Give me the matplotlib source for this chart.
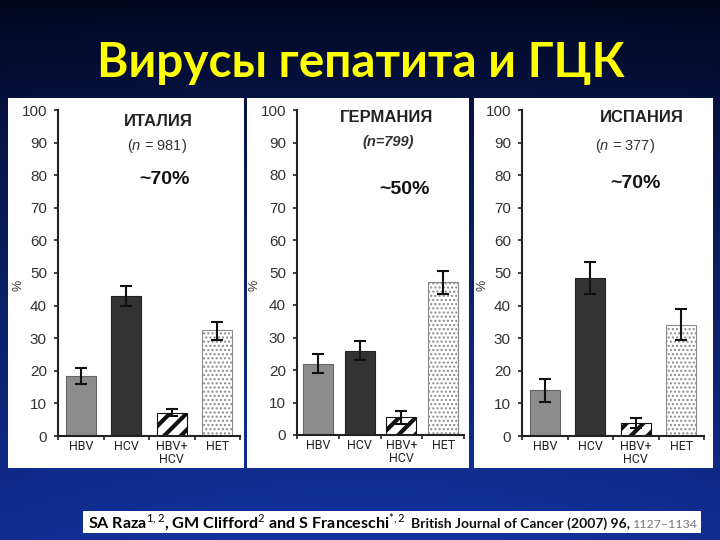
import numpy as np
import matplotlib
matplotlib.use('Agg')
import matplotlib.pyplot as plt
from matplotlib import font_manager
from matplotlib.patches import Rectangle

W, H = 720, 540

categories = ['HBV', 'HCV', 'HBV+\nHCV', 'HET']
yticks = list(range(0, 101, 10))

italy_vals = [18.5, 43, 7, 32.5]
italy_low = [16, 40, 6, 29.5]
italy_high = [21, 46, 8.2, 35]

germany_vals = [22, 26, 5.5, 47]
germany_low = [19, 23, 3.5, 43.5]
germany_high = [25, 29, 7.5, 50.5]

spain_vals = [14, 48.5, 4, 34]
spain_low = [10.5, 43.5, 2.5, 29.5]
spain_high = [17.5, 53.5, 5.5, 39]

title = 'Вирусы гепатита и ГЦК'
cite_authors = r'SA Raza$^{1,2}$, GM Clifford$^{2}$ and S Franceschi$^{*,2}$'
cite_journal = 'British Journal of Cancer (2007) 96,'
cite_pages = '1127–1134'


def has_font(name):
    try:
        font_manager.findfont(name, fallback_to_default=False)
        return True
    except Exception:
        return False


narrow = 'Liberation Sans Narrow' if has_font('Liberation Sans Narrow') else 'Roboto'

plt.rcParams['font.family'] = ['Liberation Sans', 'DejaVu Sans']
plt.rcParams['mathtext.fontset'] = 'custom'
plt.rcParams['mathtext.rm'] = 'Lato'
plt.rcParams['mathtext.it'] = 'Liberation Sans:italic'
plt.rcParams['mathtext.bf'] = 'Lato:bold'

fig = plt.figure(figsize=(7.2, 5.4), dpi=100)

# background in pixel coords
bg = fig.add_axes([0, 0, 1, 1], zorder=-1)
bg.set_xlim(0, W)
bg.set_ylim(H, 0)
bg.axis('off')
yy = np.linspace(0, 1, H)[:, None]
xx = np.linspace(0, 1, W)[None, :]
top = np.array([2, 6, 28]) / 255
bot = np.array([18, 50, 158]) / 255
t = np.clip(yy ** 0.75, 0, 1)
grad = top + (bot - top) * t[..., None]
grad = grad * (0.92 + 0.08 * np.sin(np.pi * xx))[..., None]
grad = np.broadcast_to(grad, (H, W, 3))
bg.imshow(grad, extent=(0, W, H, 0), aspect='auto', zorder=0)

for x0, x1 in [(8, 244), (247, 469), (474, 713)]:
    bg.add_patch(Rectangle((x0, 98), x1 - x0, 370, facecolor='white',
                           edgecolor='none', zorder=1))

bg.add_patch(Rectangle((83, 511), 618, 22, facecolor='white', edgecolor='none', zorder=1))

fig.canvas.draw()
renderer = fig.canvas.get_renderer()


def fit(txt, width):
    bb = txt.get_window_extent(renderer)
    txt.set_fontsize(txt.get_fontsize() * width / bb.width)


tt = bg.text(361, 77, title, ha='center', va='baseline', color='#ffff00',
             fontsize=36, fontweight='bold', family=['Lato', 'DejaVu Sans'], zorder=2)
fit(tt, 528)

c1 = bg.text(88, 528, cite_authors, ha='left', va='baseline', color='black',
             fontsize=11, fontweight='bold', family=['Lato', 'DejaVu Sans'], zorder=2)
fit(c1, 318)
c2 = bg.text(411, 528, cite_journal, ha='left', va='baseline', color='#111111',
             fontsize=9, fontweight='bold', family=['Lato', 'DejaVu Sans'], zorder=2)
fit(c2, 218)
c3 = bg.text(633, 528, cite_pages, ha='left', va='baseline', color='#777777',
             fontsize=9, family=['Lato', 'DejaVu Sans'], zorder=2)
fit(c3, 65)

colors = ['#8c8c8c', '#333333', 'white', 'white']
edges = ['#666666', '#222222', '#111111', '#8a8a8a']
hatches = [None, None, '//', '....']

panels = [
    dict(box=(58, 110, 240, 436), vals=italy_vals, low=italy_low, high=italy_high,
         name='ИТАЛИЯ', name_xy=(158, 121), n=r'($\it{n}$ = 981)', n_xy=(157, 146),
         n_style=dict(), share='~70%', share_xy=(164, 180), pct_x=18),
    dict(box=(297, 110, 464, 435), vals=germany_vals, low=germany_low, high=germany_high,
         name='ГЕРМАНИЯ', name_xy=(387, 118), n='(n=799)', n_xy=(388, 142),
         n_style=dict(fontweight='bold', fontstyle='italic'), share='~50%',
         share_xy=(404, 189), pct_x=254),
    dict(box=(522, 110, 704, 436), vals=spain_vals, low=spain_low, high=spain_high,
         name='ИСПАНИЯ', name_xy=(642, 118), n=r'($\it{n}$ = 377)', n_xy=(625, 146),
         n_style=dict(), share='~70%', share_xy=(635, 183), pct_x=482),
]

for p in panels:
    x0, y0, x1, y1 = p['box']
    ax = fig.add_axes([x0 / W, 1 - y1 / H, (x1 - x0) / W, (y1 - y0) / H])
    ax.patch.set_alpha(0)
    bw = 30 / ((x1 - x0) / 4)
    vals = np.array(p['vals'])
    for i, v in enumerate(vals):
        bar = ax.bar(i, v, width=bw, color=colors[i], edgecolor=edges[i],
                     hatch=hatches[i], linewidth=0.8, zorder=2)[0]
        if hatches[i] == '//':
            try:
                bar.set_hatch_linewidth(3.0)
            except AttributeError:
                pass
        elif hatches[i]:
            try:
                bar.set_hatch_linewidth(1.0)
            except AttributeError:
                pass
    yerr = [vals - np.array(p['low']), np.array(p['high']) - vals]
    ax.errorbar(range(4), vals, yerr=yerr, fmt='none', ecolor='#111111',
                elinewidth=1.5, capsize=4, capthick=1.5, zorder=3)
    ax.set_xlim(-0.5, 3.5)
    ax.set_ylim(0, 100)
    ax.set_yticks(yticks)
    ax.tick_params(axis='y', direction='out', length=3, width=1.2, pad=5,
                   labelsize=11, labelcolor='#333333', color='#222222')
    ax.set_xticks(range(4))
    ax.set_xticklabels(categories, fontsize=9, color='#222222', linespacing=1.0,
                       family=[narrow, 'DejaVu Sans'])
    ax.tick_params(axis='x', which='major', length=0, pad=3)
    ax.set_xticks([-0.5, 0.5, 1.5, 2.5, 3.5], minor=True)
    ax.tick_params(axis='x', which='minor', direction='out', length=3, width=1.2,
                   color='#222222')
    for s in ['top', 'right']:
        ax.spines[s].set_visible(False)
    for s in ['left', 'bottom']:
        ax.spines[s].set_color('#222222')
        ax.spines[s].set_linewidth(1.5)

    bg.text(*p['name_xy'], p['name'], ha='center', va='center', fontsize=12,
            fontweight='bold', color='#222222', zorder=2)
    bg.text(*p['n_xy'], p['n'], ha='center', va='center', fontsize=10.5,
            color='#333333', zorder=2, **p['n_style'])
    bg.text(*p['share_xy'], p['share'], ha='center', va='center', fontsize=14,
            fontweight='bold', color='#111111', zorder=2)
    bg.text(p['pct_x'], 285, '%', ha='center', va='center', rotation=90,
            fontsize=9, color='#333333', zorder=2)

fig.savefig('out.png', dpi=100)
